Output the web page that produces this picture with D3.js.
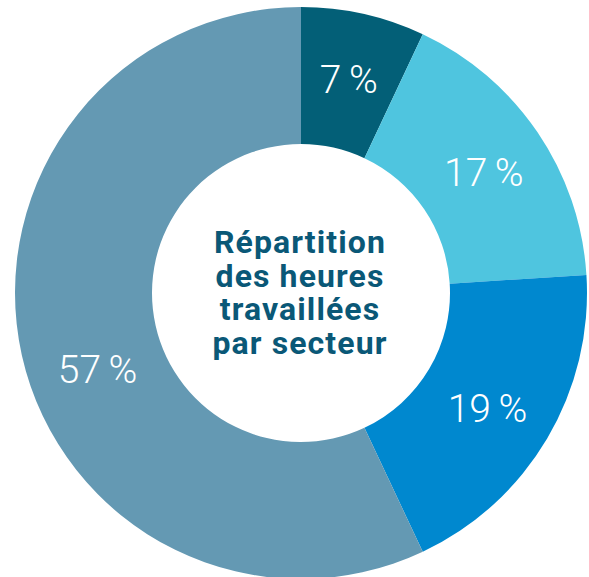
<!DOCTYPE html>
<html><head><meta charset="utf-8">
<script src="https://cdn.jsdelivr.net/npm/d3@7"></script>
<style>html,body{margin:0;padding:0;background:#fff;}svg{display:block;}</style>
</head><body>
<svg id="c" width="589" height="577"></svg>
<script>
const sectors = ["A", "B", "C", "D"];
const values = [7, 17, 19, 57];
const labels = ["7 %", "17 %", "19 %", "57 %"];
const colors = ["#035f77", "#4fc5df", "#0088cf", "#6499b3"];
const titleLines = ["Répartition", "des heures", "travaillées", "par secteur"];

const svg = d3.select("#c");
const cx = 301, cy = 293, R = 286, r = 149;
const g = svg.append("g").attr("transform", `translate(${cx},${cy})`);
const pie = d3.pie().sort(null).value(d => d.v);
const data = pie(sectors.map((s, i) => ({s, v: values[i], l: labels[i], c: colors[i]})));
const arc = d3.arc().innerRadius(r).outerRadius(R);
g.selectAll("path.s").data(data).enter().append("path")
  .attr("d", arc).attr("fill", d => d.data.c);

// label placement: along slice bisector, big slice nudged
const angleNudge = [0, 0.8, 1.0, -7.8];
g.selectAll("text.l").data(data).enter().append("text")
  .attr("transform", (d, i) => {
    const a = (d.startAngle + d.endAngle) / 2 + angleNudge[i] * Math.PI / 180;
    const lr = i === 3 ? 217 : 219;
    return `translate(${lr * Math.sin(a)},${-lr * Math.cos(a)})`;
  })
  .attr("text-anchor", "middle").attr("dy", "0.36em")
  .attr("fill", "#fff").attr("font-family", "Roboto, sans-serif")
  .attr("font-weight", 300).attr("font-size", 39).attr("word-spacing", -2)
  .text(d => d.data.l);

const t = g.append("text").attr("text-anchor", "middle")
  .attr("fill", "#0a5877").attr("font-family", "Roboto, sans-serif")
  .attr("font-weight", 700).attr("font-size", 32).attr("letter-spacing", 1.1);
titleLines.forEach((s, i) => {
  t.append("tspan").attr("x", -1).attr("y", -40 + i * 33.5).text(s);
});
</script>
</body></html>
